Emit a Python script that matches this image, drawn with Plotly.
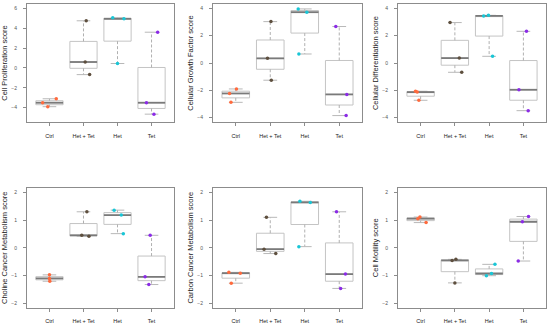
import numpy as np
import plotly.graph_objects as go

categories = ["Ctrl", "Het + Tet", "Het", "Tet"]
group_colors = ["#FF6A3D", "#5E4F3E", "#19C6D6", "#8B2BE6"]

score_titles = [
    "Cell Proliferation score",
    "Cellular Growth Factor score",
    "Cellular Differentiation score",
    "Choline Cancer Metabolism score",
    "Carbon Cancer Metabolism score",
    "Cell Motility score",
]

# values per group: Ctrl, Het + Tet, Het, Tet
proliferation = [[-3.5, -3.9, -3.1], [4.75, 0.6, -0.67], [5.05, 4.95, 0.45], [3.6, -3.5, -4.65]]
growth_factor = [[-1.9, -2.23, -2.88], [3.03, 0.34, -1.26], [3.96, 3.72, 0.66], [2.67, -2.3, -3.85]]
differentiation = [[-2.07, -2.13, -2.73], [2.96, 0.36, -0.68], [3.45, 3.49, 0.49], [2.32, -1.96, -3.49]]
choline = [[-0.98, -1.11, -1.21], [1.3, 0.45, 0.42], [1.36, 1.18, 0.51], [0.45, -1.05, -1.33]]
carbon = [[-0.89, -0.92, -1.28], [1.1, -0.05, -0.21], [1.68, 1.64, 0.04], [1.3, -0.95, -1.47]]
motility = [[1.11, 1.05, 0.91], [-0.42, -0.46, -1.27], [-0.6, -0.93, -1.01], [1.13, 0.94, -0.48]]

# horizontal jitter of each point (category units)
proliferation_jitter = [[-0.2, -0.05, 0.2], [0.08, 0.05, 0.18], [-0.14, 0.19, 0.0], [0.18, -0.15, 0.07]]
growth_factor_jitter = [[0.02, -0.18, -0.14], [0.02, -0.08, 0.03], [-0.19, 0.06, -0.17], [-0.1, 0.22, 0.2]]
differentiation_jitter = [[-0.15, -0.1, -0.05], [-0.14, 0.13, 0.2], [-0.16, -0.02, 0.1], [0.09, -0.13, 0.14]]
choline_jitter = [[0.0, 0.0, 0.01], [0.1, -0.05, 0.16], [-0.1, 0.11, 0.17], [-0.04, -0.19, -0.08]]
carbon_jitter = [[-0.2, 0.13, -0.13], [-0.11, -0.18, 0.16], [-0.14, 0.16, -0.17], [-0.08, 0.18, 0.04]]
motility_jitter = [[-0.02, -0.08, 0.16], [0.03, -0.08, 0.0], [0.17, 0.07, -0.08], [0.15, -0.03, -0.15]]

y_limits = [(-5, 6), (-4, 4), (-4, 4), (-2, 2), (-2, 2), (-2, 2)]
y_steps = [2, 2, 2, 1, 1, 1]

panels = [proliferation, growth_factor, differentiation, choline, carbon, motility]
jitters = [proliferation_jitter, growth_factor_jitter, differentiation_jitter,
           choline_jitter, carbon_jitter, motility_jitter]

# layout (pixel frames of each panel)
W, H = 550, 326
col_px = [(27, 174), (213, 362), (398, 546)]
row_px = [(4, 122), (188, 307.5)]

BOX_W = 0.8
CAP_W = 0.4
box_line = "#C4C4C4"
med_line = "#7A7A7A"
frame_col = "#8C8C8C"

fig = go.Figure()
layout = dict(
    width=W, height=H, margin=dict(l=0, r=0, t=0, b=0, autoexpand=False),
    paper_bgcolor="white", plot_bgcolor="white", showlegend=False,
    font=dict(family="Liberation Sans, Arial, sans-serif", color="#333"),
)

for k, (data, jit) in enumerate(zip(panels, jitters)):
    n = "" if k == 0 else str(k + 1)
    xa, ya = "x" + n, "y" + n
    r, c = divmod(k, 3)
    for i, vals in enumerate(data):
        pos = i + 1
        v = np.array(vals, dtype=float)
        q1, med, q3 = np.percentile(v, [25, 50, 75])
        vmin, vmax = v.min(), v.max()
        # whiskers (dashed)
        fig.add_trace(go.Scatter(
            x=[pos, pos, None, pos, pos], y=[q3, vmax, None, q1, vmin],
            mode="lines", line=dict(color="#B0B0B0", width=1, dash="3px,2px"),
            xaxis=xa, yaxis=ya, hoverinfo="skip"))
        # staples
        fig.add_trace(go.Scatter(
            x=[pos - CAP_W / 2, pos + CAP_W / 2, None, pos - CAP_W / 2, pos + CAP_W / 2],
            y=[vmax, vmax, None, vmin, vmin],
            mode="lines", line=dict(color="#B8B8B8", width=1),
            xaxis=xa, yaxis=ya, hoverinfo="skip"))
        # box
        fig.add_trace(go.Box(
            x=[pos], q1=[q1], median=[med], q3=[q3], lowerfence=[q1], upperfence=[q3],
            width=BOX_W, whiskerwidth=0, fillcolor="white",
            line=dict(color=box_line, width=1), boxpoints=False,
            xaxis=xa, yaxis=ya, hoverinfo="skip"))
        # median
        fig.add_trace(go.Scatter(
            x=[pos - BOX_W / 2, pos + BOX_W / 2], y=[med, med],
            mode="lines", line=dict(color=med_line, width=1.8),
            xaxis=xa, yaxis=ya, hoverinfo="skip"))
        # points
        fig.add_trace(go.Scatter(
            x=[pos + j for j in jit[i]], y=vals, mode="markers",
            marker=dict(color=group_colors[i], size=3.5, line=dict(width=0)),
            xaxis=xa, yaxis=ya))

    lo, hi = y_limits[k]
    ext = (hi - lo) * 0.04
    x0, x1 = col_px[c]
    t0, t1 = row_px[r]
    layout["xaxis" + n] = dict(
        domain=[x0 / W, x1 / W], anchor=ya, range=[0.34, 4.66], automargin=False,
        tickmode="array", tickvals=[1, 2, 3, 4], ticktext=categories,
        showline=True, mirror=True, linecolor=frame_col, linewidth=1,
        ticks="outside", ticklen=3, tickcolor=frame_col, ticklabelstandoff=5,
        tickfont=dict(size=5.5, color="#222", family="Liberation Sans, Arial"),
        showgrid=False, zeroline=False, fixedrange=True)
    layout["yaxis" + n] = dict(
        domain=[1 - t1 / H, 1 - t0 / H], anchor=xa, range=[lo - ext, hi + ext],
        automargin=False,
        tickmode="linear", tick0=0, dtick=y_steps[k],
        showline=True, mirror=True, linecolor=frame_col, linewidth=1,
        ticks="outside", ticklen=3, tickcolor=frame_col, ticklabelstandoff=5,
        tickfont=dict(size=5, color="#555"),
        title=dict(text=score_titles[k], font=dict(size=7.5, color="#222"), standoff=2),
        showgrid=False, zeroline=False, fixedrange=True)

fig.update_layout(**layout)
fig.write_html("out.html", config={"displayModeBar": False},
               post_script="document.body.style.margin='0px';")
